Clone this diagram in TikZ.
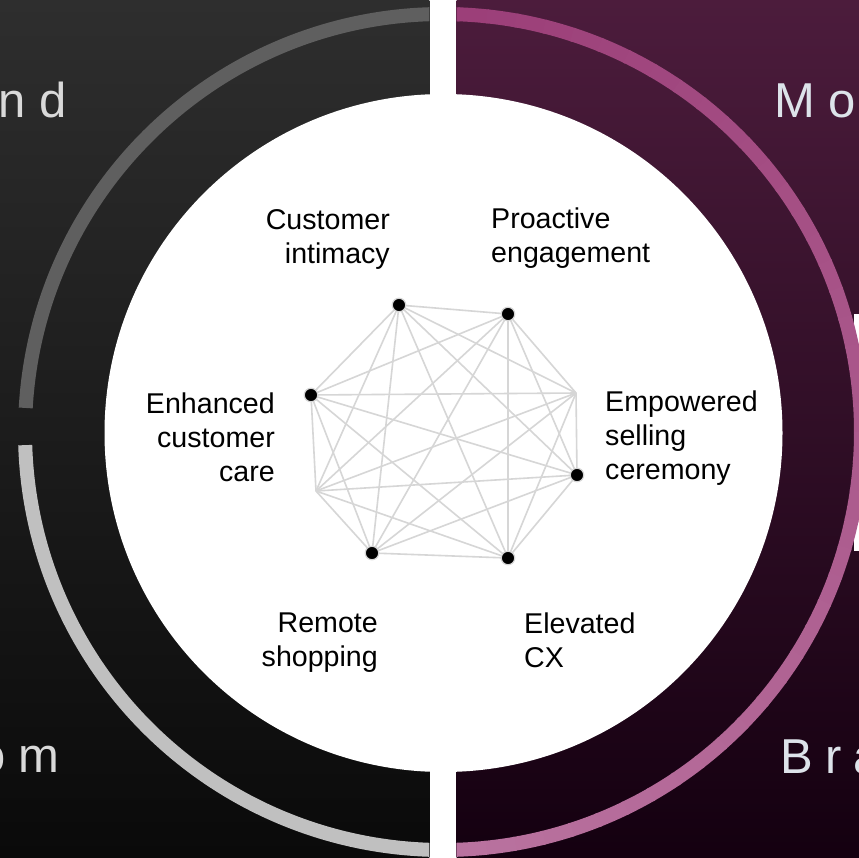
\documentclass[tikz,border=0pt]{standalone}
\usepackage{fontspec}
\setmainfont{Liberation Sans}

\definecolor{leftTop}{HTML}{2E2E2E}
\definecolor{leftBot}{HTML}{0A0A0A}
\definecolor{rightTop}{HTML}{4C1C3C}
\definecolor{rightBot}{HTML}{140010}
\definecolor{arcDim}{HTML}{5F5F5F}
\definecolor{arcLight}{HTML}{C0C0C0}
\definecolor{arcMagTop}{HTML}{9B3E78}
\definecolor{arcMagBot}{HTML}{BA74A0}
\definecolor{linkGray}{HTML}{D6D6D6}
\definecolor{bigLeft}{HTML}{D9D9D9}
\definecolor{bigRight}{HTML}{DDE3EA}

\tikzset{
  link/.style={draw=linkGray, line width=1.6pt},
  hub/.style={circle, fill=black, draw=linkGray, line width=1.2pt, minimum size=13.5pt, inner sep=0pt},
  lbl/.style={font=\fontsize{28.6}{34}\selectfont, inner sep=0pt},
  big/.style={font=\fontsize{49}{50}\selectfont, inner sep=0pt},
  rim/.style={line width=14pt},
}

\begin{document}
\begin{tikzpicture}[x=1pt, y=-1pt]
  \useasboundingbox (0,0) rectangle (859,857);
  \clip (0,0) rectangle (859,857);

  % Two panels
  \shade[top color=leftTop, bottom color=leftBot] (0,0) rectangle (429.3,857);
  \shade[top color=rightTop, bottom color=rightBot] (456.7,0) rectangle (859,857);
  \fill[white] (854,314) rectangle (859,551);

  \coordinate (ctr) at (443,432);

  % Outer arcs, left half
  \begin{scope}
    \clip (0,0) rectangle (429.3,857);
    \draw[rim, arcDim] ([shift={(89:418pt)}]ctr) arc[start angle=89, end angle=176.7, radius=418pt];
    \draw[rim, arcLight] ([shift={(181.8:418pt)}]ctr) arc[start angle=181.8, end angle=272, radius=418pt];
  \end{scope}

  % Outer arc, right half (colour runs top to bottom)
  \begin{scope}
    \clip (456.7,0) rectangle (859,857);
    \foreach \k in {0,...,45}{
      \pgfmathsetmacro\a{92-4*\k}
      \pgfmathsetmacro\b{\a-4.3}
      \pgfmathtruncatemacro\p{100*\k/45}
      \draw[rim, arcMagBot!\p!arcMagTop] ([shift={(\a:418pt)}]ctr) arc[start angle=\a, end angle=\b, radius=418pt];
    }
  \end{scope}

  % Centre disc
  \fill[white] (443.5,433) circle (339pt);

  % Octagon graph
  \coordinate (n1) at (399,305);
  \coordinate (n2) at (508,314);
  \coordinate (n3) at (576,393);
  \coordinate (n4) at (577,475);
  \coordinate (n5) at (508,558);
  \coordinate (n6) at (372,553);
  \coordinate (n7) at (316,491);
  \coordinate (n8) at (311,395);

  \foreach \i in {1,...,7}{
    \pgfmathtruncatemacro\j{\i+1}
    \foreach \k in {\j,...,8}
      \draw[link] (n\i) -- (n\k);
  }
  \foreach \i in {1,2,4,5,6,8}
    \node[hub] (d\i) at (n\i) {};

  % Labels round the graph (base = last line)
  \node[lbl, align=right, anchor=base east] (ci) at (390,263) {Customer\\intimacy};
  \node[lbl, align=left, anchor=base west] (pe) at (491,262) {Proactive\\engagement};
  \node[lbl, align=right, anchor=base east] (ecc) at (275,481) {Enhanced\\customer\\care};
  \node[lbl, align=left, anchor=base west] (esc) at (605,479) {Empowered\\selling\\ceremony};
  \node[lbl, align=right, anchor=base east] (rs) at (378,666) {Remote\\shopping};
  \node[lbl, align=left, anchor=base west] (ecx) at (524,667) {Elevated\\CX};

  % Corner titles
  \node[big, text=bigLeft, anchor=base east] (tl) at (66.5,117) {n\kern13pt d};
  \node[big, text=bigRight, anchor=base west] (tr) at (774.5,117) {M\kern13pt o};
  \node[big, text=bigLeft, anchor=base east] (bl) at (60,772) {o\kern13pt m};
  \node[big, text=bigRight, anchor=base west] (br) at (780.5,773) {B\kern12pt r\kern12pt a};
\end{tikzpicture}
\end{document}
